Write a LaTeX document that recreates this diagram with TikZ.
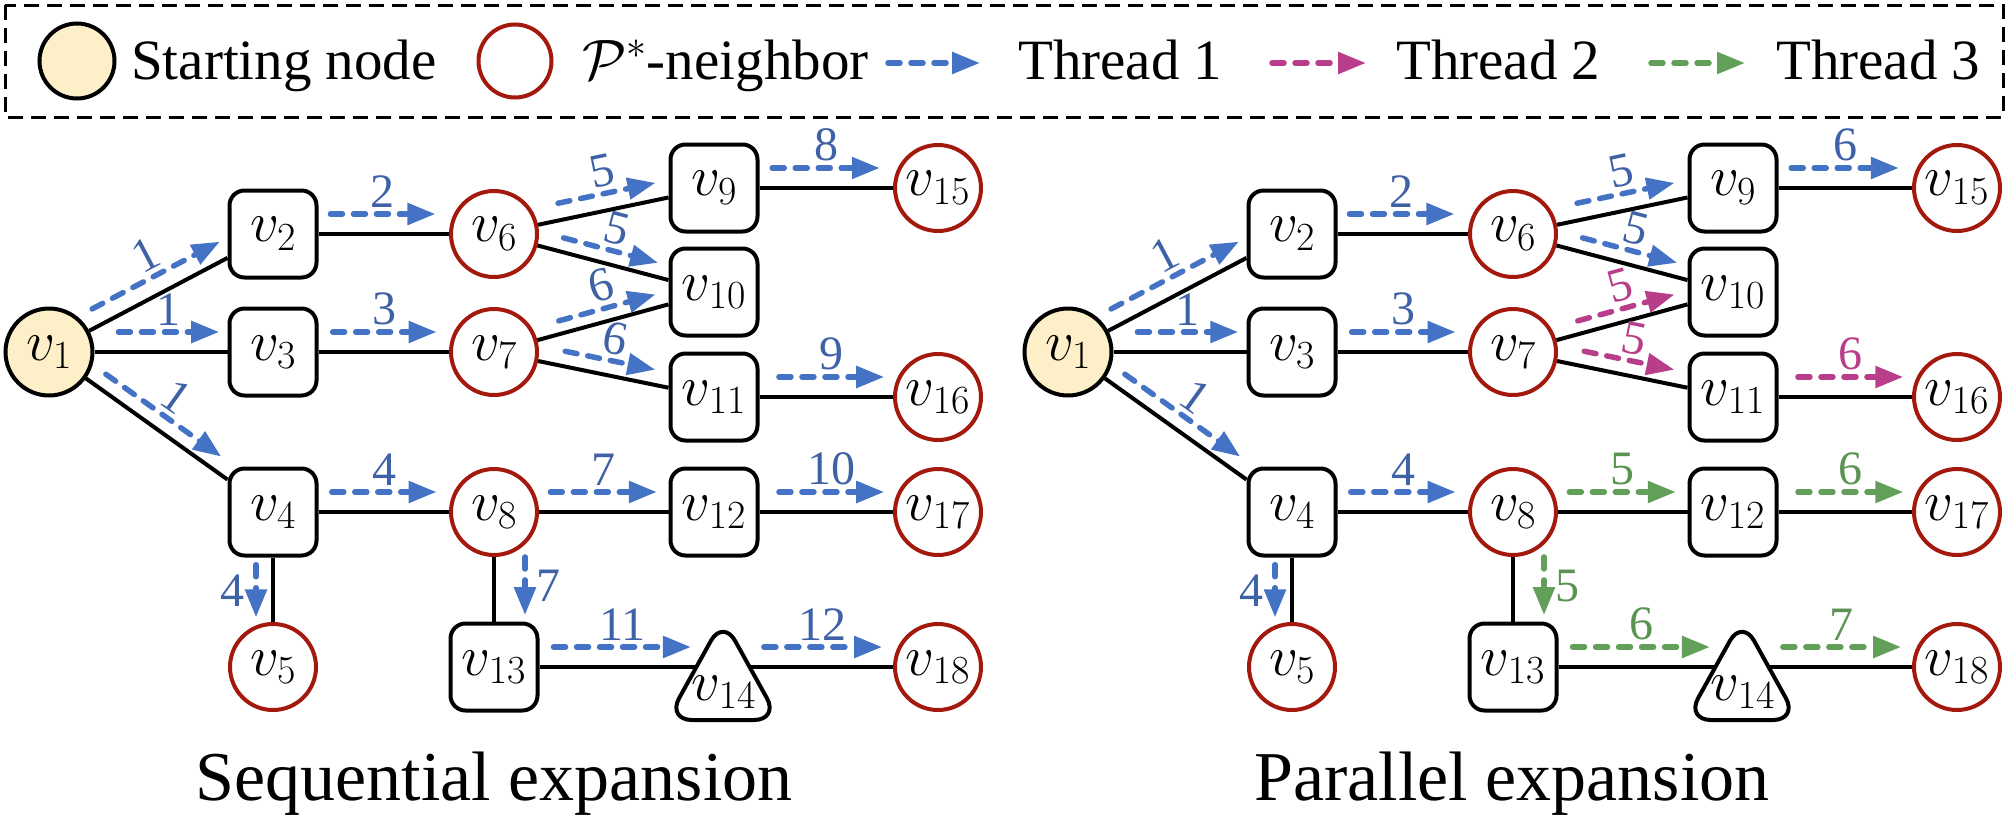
\RequirePackage{fix-cm}
\documentclass[tikz,border=0pt]{standalone}
\usepackage[no-math]{fontspec}
\setmainfont{Liberation Serif}
\usetikzlibrary{arrows.meta,calc}
\definecolor{tblue}{HTML}{4472C4}
\definecolor{tbluel}{HTML}{3F62A6}
\definecolor{tmag}{HTML}{B83E8B}
\definecolor{tgreen}{HTML}{62A05A}
\definecolor{tgreenl}{HTML}{5A9352}
\definecolor{pred}{HTML}{A3190E}
\definecolor{syel}{HTML}{FDF0C8}
\tikzset{
  nodefont/.style={font=\fontsize{57}{60}\selectfont},
  sq/.style={draw, line width=4pt, rounded corners=15pt, minimum width=87pt, minimum height=87pt, inner sep=0pt, fill=white, nodefont},
  pn/.style={circle, draw=pred, line width=4pt, minimum size=86pt, inner sep=0pt, fill=white, nodefont},
  st/.style={circle, draw=black, fill=syel, line width=4pt, minimum size=87pt, inner sep=0pt, nodefont},
  edge/.style={line width=4pt},
  thread/.style={line width=5.5pt, dash pattern=on 12pt off 11pt, line cap=round, -{Triangle[length=28pt,width=21pt]}},
  lab/.style={font=\fontsize{48}{50}\selectfont, inner sep=0pt},
  tb/.style={color=tblue}, labtb/.style={text=tbluel},
  tm/.style={color=tmag}, labtm/.style={text=tmag},
  tg/.style={color=tgreen}, labtg/.style={text=tgreenl},
  lgfont/.style={font=\fontsize{57}{60}\selectfont, inner sep=0pt},
  capfont/.style={font=\fontsize{70}{74}\selectfont, inner sep=0pt},
  legframe/.style={line width=3pt, dash pattern=on 15pt off 8pt},
}
% #1 thread style, #2 from, #3 to, #4 start fraction, #5 end fraction, #6 offset, #7 side angle, #8 label options, #9 label
\newcommand\thr[9]{%
  \coordinate (tS) at ($(#2)!#4!(#3)$);
  \coordinate (tE) at ($(#2)!#5!(#3)$);
  \draw[thread,#1] ($(tS)!#6!#7:(#3)$) -- node[lab,lab#1,#8] {#9} ($(tE)!#6!#7:(#3)$);
}
\newcommand\graphnodes[1]{%
  \node[st] (#1v1) at (49,352) {$v_{1}$};
  \node[sq] (#1v2) at (273,234) {$v_{2}$};
  \node[sq] (#1v3) at (273,352) {$v_{3}$};
  \node[sq] (#1v4) at (273,512) {$v_{4}$};
  \node[pn] (#1v5) at (273,667) {$v_{5}$};
  \node[pn] (#1v6) at (494,234) {$v_{6}$};
  \node[pn] (#1v7) at (494,352) {$v_{7}$};
  \node[pn] (#1v8) at (494,512) {$v_{8}$};
  \node[sq] (#1v9) at (714,188) {$v_{9}$};
  \node[sq] (#1v10) at (714,292) {$v_{10}$};
  \node[sq] (#1v11) at (714,397) {$v_{11}$};
  \node[sq] (#1v12) at (714,512) {$v_{12}$};
  \node[sq] (#1v13) at (494,667) {$v_{13}$};
  \draw[line width=4pt, rounded corners=25pt, fill=white] (723,720) -- (779,720) -- (723,619) -- (667,720) -- cycle;
  \node[nodefont, inner sep=0pt] (#1v14) at (724,692) {$v_{14}$};
  \coordinate (#1v14w) at (696,667);
  \coordinate (#1v14e) at (751,667);
  \coordinate (#1v14c) at (723,667);
  \node[pn] (#1v15) at (938,188) {$v_{15}$};
  \node[pn] (#1v16) at (938,397) {$v_{16}$};
  \node[pn] (#1v17) at (938,512) {$v_{17}$};
  \node[pn] (#1v18) at (938,667) {$v_{18}$};
  \draw[edge] (#1v1) -- (#1v2);
  \draw[edge] (#1v1) -- (#1v3);
  \draw[edge] (#1v1) -- (#1v4);
  \draw[edge] (#1v2) -- (#1v6);
  \draw[edge] (#1v3) -- (#1v7);
  \draw[edge] (#1v4) -- (#1v8);
  \draw[edge] (#1v4) -- (#1v5);
  \draw[edge] (#1v6) -- (#1v9);
  \draw[edge] (#1v6) -- (#1v10);
  \draw[edge] (#1v7) -- (#1v10);
  \draw[edge] (#1v7) -- (#1v11);
  \draw[edge] (#1v8) -- (#1v12);
  \draw[edge] (#1v8) -- (#1v13);
  \draw[edge] (#1v9) -- (#1v15);
  \draw[edge] (#1v11) -- (#1v16);
  \draw[edge] (#1v12) -- (#1v17);
  \draw[edge] (#1v13) -- (#1v14w);
  \draw[edge] (#1v14e) -- (#1v18);
}
\begin{document}
\begin{tikzpicture}[x=1pt,y=-1pt]
\useasboundingbox (0,0) rectangle (2008,822);
% legend
\draw[legframe] (5,5) rectangle (2003,117);
\node[st, minimum size=75pt] (lstart) at (77,61) {};
\node[lgfont, anchor=base west] (lstartt) at (131,79) {Starting node};
\node[pn, minimum size=73pt] (lpn) at (515,61) {};
\node[lgfont, anchor=base west] (lpnt) at (582,79) {$\mathcal{P}^{*}$-neighbor};
\coordinate (la1s) at (888,63); \coordinate (la1e) at (980,63);
\draw[thread,tb] (la1s) -- (la1e);
\node[lgfont, anchor=base west] (lt1) at (1018,79) {Thread 1};
\coordinate (la2s) at (1272,63); \coordinate (la2e) at (1366,63);
\draw[thread,tm] (la2s) -- (la2e);
\node[lgfont, anchor=base west] (lt2) at (1396,79) {Thread 2};
\coordinate (la3s) at (1651,63); \coordinate (la3e) at (1745,63);
\draw[thread,tg] (la3s) -- (la3e);
\node[lgfont, anchor=base west] (lt3) at (1776,79) {Thread 3};
% left: sequential
\graphnodes{a}
\thr{tb}{av1}{av2}{.23}{.80}{18pt}{90}{sloped,above=4pt}{1}
\thr{tb}{av1}{av3}{.31}{.76}{20pt}{90}{sloped,above=4pt}{1}
\thr{tb}{av1}{av4}{.215}{.73}{15pt}{90}{sloped,above=4pt}{1}
\thr{tb}{av2}{av6}{.26}{.735}{20pt}{90}{sloped,above=4pt}{2}
\thr{tb}{av3}{av7}{.27}{.74}{20pt}{90}{sloped,above=4pt}{3}
\thr{tb}{av4}{av8}{.266}{.74}{20pt}{90}{sloped,above=4pt}{4}
\thr{tb}{av4}{av5}{.34}{.68}{17pt}{-90}{left=9pt}{4}
\thr{tb}{av6}{av9}{.307}{.75}{17pt}{90}{sloped,above=4pt}{5}
\thr{tb}{av6}{av10}{.30}{.73}{14pt}{90}{sloped,above=4pt}{5}
\thr{tb}{av7}{av10}{.31}{.75}{13pt}{90}{sloped,above=4pt}{6}
\thr{tb}{av7}{av11}{.31}{.72}{15pt}{90}{sloped,above=4pt}{6}
\thr{tb}{av8}{av12}{.256}{.74}{20pt}{90}{sloped,above=4pt}{7}
\thr{tb}{av8}{av13}{.29}{.665}{31pt}{90}{right=9pt}{7}
\thr{tb}{av9}{av15}{.26}{.74}{20pt}{90}{sloped,above=4pt}{8}
\thr{tb}{av11}{av16}{.29}{.76}{20pt}{90}{sloped,above=4pt}{9}
\thr{tb}{av12}{av17}{.29}{.76}{20pt}{90}{sloped,above=4pt}{10}
\thr{tb}{av13}{av14c}{.26}{.86}{20pt}{90}{sloped,above=4pt}{11}
\thr{tb}{av14c}{av18}{.19}{.74}{20pt}{90}{sloped,above=4pt}{12}
\node[capfont, anchor=base] (cap1) at (494,800) {Sequential expansion};
% right: parallel
\begin{scope}[xshift=1019pt]
\graphnodes{b}
\end{scope}
\thr{tb}{bv1}{bv2}{.23}{.80}{18pt}{90}{sloped,above=4pt}{1}
\thr{tb}{bv1}{bv3}{.31}{.76}{20pt}{90}{sloped,above=4pt}{1}
\thr{tb}{bv1}{bv4}{.215}{.73}{15pt}{90}{sloped,above=4pt}{1}
\thr{tb}{bv2}{bv6}{.26}{.735}{20pt}{90}{sloped,above=4pt}{2}
\thr{tb}{bv3}{bv7}{.27}{.74}{20pt}{90}{sloped,above=4pt}{3}
\thr{tb}{bv4}{bv8}{.266}{.74}{20pt}{90}{sloped,above=4pt}{4}
\thr{tb}{bv4}{bv5}{.34}{.68}{17pt}{-90}{left=9pt}{4}
\thr{tb}{bv6}{bv9}{.307}{.75}{17pt}{90}{sloped,above=4pt}{5}
\thr{tb}{bv6}{bv10}{.30}{.73}{14pt}{90}{sloped,above=4pt}{5}
\thr{tm}{bv7}{bv10}{.31}{.75}{13pt}{90}{sloped,above=4pt}{5}
\thr{tm}{bv7}{bv11}{.31}{.72}{15pt}{90}{sloped,above=4pt}{5}
\thr{tg}{bv8}{bv12}{.256}{.74}{20pt}{90}{sloped,above=4pt}{5}
\thr{tg}{bv8}{bv13}{.29}{.665}{31pt}{90}{right=9pt}{5}
\thr{tb}{bv9}{bv15}{.26}{.74}{20pt}{90}{sloped,above=4pt}{6}
\thr{tm}{bv11}{bv16}{.29}{.76}{20pt}{90}{sloped,above=4pt}{6}
\thr{tg}{bv12}{bv17}{.29}{.76}{20pt}{90}{sloped,above=4pt}{6}
\thr{tg}{bv13}{bv14c}{.26}{.86}{20pt}{90}{sloped,above=4pt}{6}
\thr{tg}{bv14c}{bv18}{.19}{.74}{20pt}{90}{sloped,above=4pt}{7}
\node[capfont, anchor=base] (cap2) at (1512,800) {Parallel expansion};
\end{tikzpicture}
\end{document}
